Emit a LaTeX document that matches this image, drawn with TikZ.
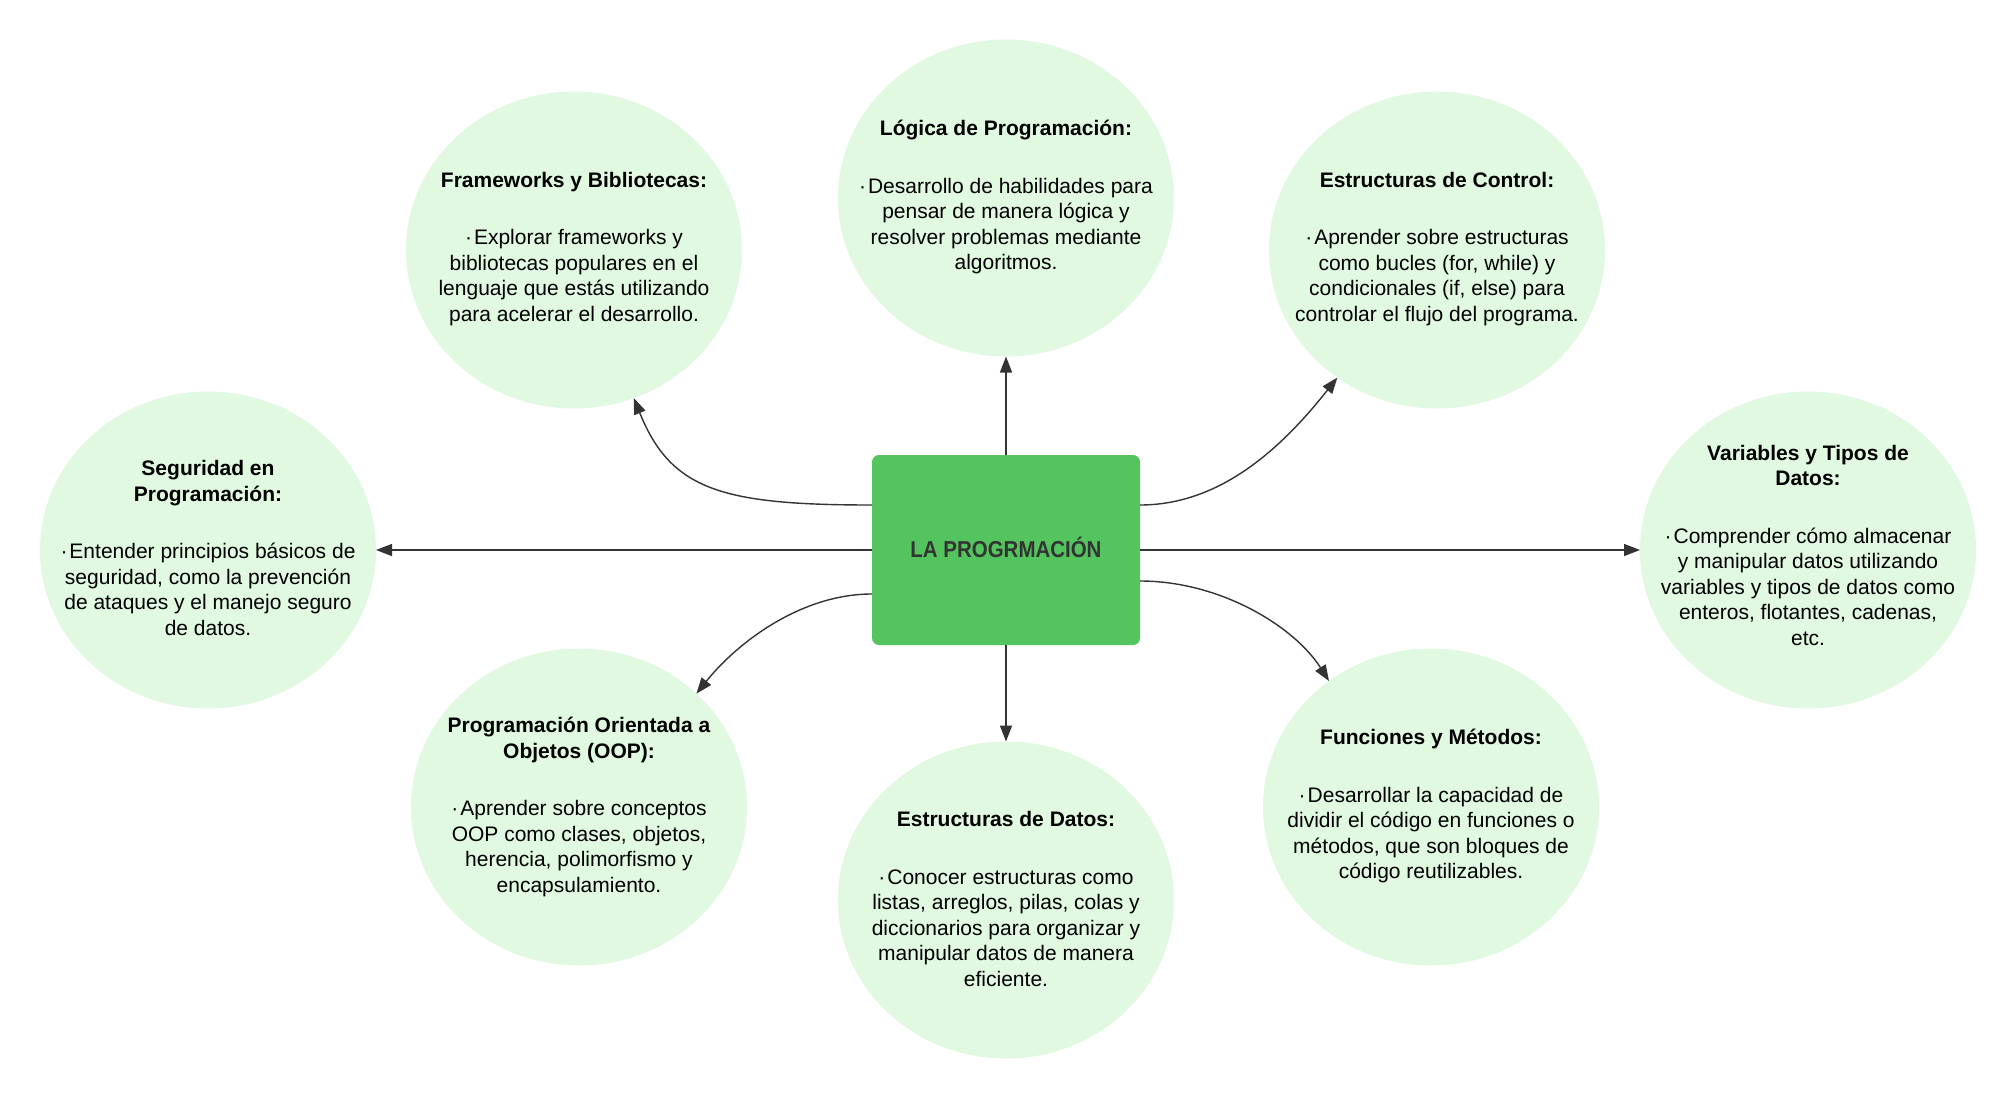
\documentclass[tikz,border=0pt]{standalone}
\usepackage{fontspec}
\usepackage{graphicx}
\setmainfont{Liberation Sans}
\usetikzlibrary{arrows.meta,shapes.geometric,calc}
\definecolor{bubblefill}{HTML}{E0F9E0}
\definecolor{boxgreen}{HTML}{54C45E}
\definecolor{linec}{HTML}{333333}
\definecolor{boxtext}{HTML}{333333}
\newcommand{\mybul}{·\kern2pt}
\begin{document}
\begin{tikzpicture}[x=1pt,y=-1pt,
  bubble/.style={ellipse, fill=bubblefill, draw=none, minimum width=336pt, minimum height=317pt, inner sep=0pt, outer sep=0pt},
  bubtext/.style={align=center, font=\fontsize{21}{25.5}\selectfont, text=black, inner sep=0pt},
  arr/.style={draw=linec, line width=1.4pt, -{Triangle[length=16pt,width=12pt]}},
  ]
\useasboundingbox (0,0) rectangle (2016,1100);
\fill[white] (0,0) rectangle (2016,1100);

% bubbles
\node[bubble] (fw)  at (574,250)  {};
\node[bubble] (lg)  at (1006,198) {};
\node[bubble] (ct)  at (1437,250) {};
\node[bubble] (seg) at (208,550)  {};
\node[bubble] (var) at (1808,550) {};
\node[bubble] (oop) at (579,807)  {};
\node[bubble] (ds)  at (1006,900) {};
\node[bubble] (fun) at (1431,807) {};

% texts
\node[bubtext] (fwt) at ($(fw)+(0,-1)$) {\textbf{Frameworks y Bibliotecas:}\\[32pt]
  \mybul Explorar frameworks y\\bibliotecas populares en el\\lenguaje que estás utilizando\\para acelerar el desarrollo.};
\node[bubtext] (lgt) at ($(lg)+(0,-1)$) {\textbf{Lógica de Programación:}\\[32pt]
  \mybul Desarrollo de habilidades para\\pensar de manera lógica y\\resolver problemas mediante\\algoritmos.};
\node[bubtext] (ctt) at ($(ct)+(0,-1)$) {\textbf{Estructuras de Control:}\\[32pt]
  \mybul Aprender sobre estructuras\\como bucles (for, while) y\\condicionales (if, else) para\\controlar el flujo del programa.};
\node[bubtext] (segt) at ($(seg)+(0,-2)$) {\textbf{Seguridad en}\\\textbf{Programación:}\\[32pt]
  \mybul Entender principios básicos de\\seguridad, como la prevención\\de ataques y el manejo seguro\\de datos.};
\node[bubtext] (vart) at ($(var)+(0,-5)$) {\textbf{Variables y Tipos de}\\\textbf{Datos:}\\[32pt]
  \mybul Comprender cómo almacenar\\y manipular datos utilizando\\variables y tipos de datos como\\enteros, flotantes, cadenas,\\etc.};
\node[bubtext] (oopt) at (oop) {\textbf{Programación Orientada a}\\\textbf{Objetos (OOP):}\\[32pt]
  \mybul Aprender sobre conceptos\\OOP como clases, objetos,\\herencia, polimorfismo y\\encapsulamiento.};
\node[bubtext] (dst) at ($(ds)+(0,-1)$) {\textbf{Estructuras de Datos:}\\[32pt]
  \mybul Conocer estructuras como\\listas, arreglos, pilas, colas y\\diccionarios para organizar y\\manipular datos de manera\\eficiente.};
\node[bubtext] (funt) at ($(fun)+(0,-1)$) {\textbf{Funciones y Métodos:}\\[32pt]
  \mybul Desarrollar la capacidad de\\dividir el código en funciones o\\métodos, que son bloques de\\código reutilizables.};

% central box
\node[fill=boxgreen, rounded corners=7pt, minimum width=268pt, minimum height=190pt, inner sep=0pt, outer sep=0pt] (c) at (1006,550) {};
\node[font=\fontsize{23}{27}\selectfont\bfseries, text=boxtext, inner sep=0pt] (ct0) at ($(c)+(0,-3)$)
      {\scalebox{0.89}[1]{LA PROGRMACIÓN}};

% connectors
\draw[arr] (c.north) -- (lg.south);
\draw[arr] (c.south) -- (ds.north);
\draw[arr] (c.west) -- (seg.east);
\draw[arr] (c.east) -- (var.west);
\draw[arr] ($(c.west)+(0,-45)$) .. controls +(-150,0) and +(37,92) .. (fw.-68);
\draw[arr] ($(c.east)+(0,-45)$) .. controls +(80,0) and +(-56,71) .. (ct.-128);
\draw[arr] ($(c.west)+(0,44)$) .. controls +(-72,0) and +(40,-50) .. (oop.44);
\draw[arr] ($(c.east)+(0,31)$) .. controls +(80,0) and +(-35,-55) .. (fun.129);
\end{tikzpicture}
\end{document}
